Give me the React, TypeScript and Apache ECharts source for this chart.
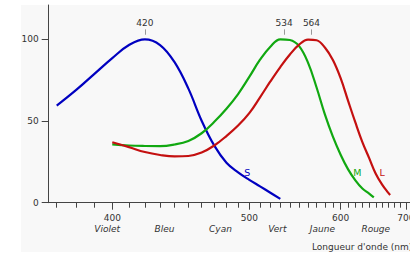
import { useEffect, useRef } from "react";
import * as echarts from "echarts";

// Cone sensitivities (normalised), wavelength in nm
const sWavelengths = [370, 380, 390, 400, 410, 420, 430, 440, 450, 460, 470, 480, 490, 500, 510, 520, 530];
const sValues = [59.4, 69, 79, 88.5, 96.5, 100, 96.5, 86, 69.8, 50.2, 34.9, 24.5, 18.6, 14, 10, 6.1, 2.3];

const mWavelengths = [400, 410, 420, 430, 440, 450, 460, 470, 480, 490, 500, 510, 520, 530, 540, 550, 560, 570, 580, 590, 600, 610, 620, 630, 640, 647];
const mValues = [35.7, 35.0, 34.7, 34.6, 35.6, 37.8, 42.5, 49.5, 57.5, 66.5, 77, 87.5, 95.5, 100, 99.6, 95.8, 85.7, 70.5, 54, 40.4, 29.4, 20.4, 13.7, 8.7, 5.6, 3.3];

const lWavelengths = [400, 410, 420, 430, 440, 450, 460, 470, 480, 490, 500, 510, 520, 530, 540, 550, 560, 570, 580, 590, 600, 610, 620, 630, 640, 650, 660, 670, 673];
const lValues = [37, 34, 31, 29.2, 28.3, 28.6, 30.7, 35, 40.8, 47.2, 54.8, 64.5, 74.2, 83, 90.7, 96.7, 99.8, 99.4, 95, 87.3, 76.2, 62.3, 49.1, 37.1, 27.3, 17.7, 11, 6, 4.7];

const seriesNames = ["S", "M", "L"];
const peakWavelengths = [420, 534, 564];
const peakValues = [100, 100, 100];
const labelWavelengths = [500, 620, 660];

const xTickWavelengths = [370, 380, 390, 400, 410, 420, 430, 440, 450, 460, 470, 480, 490, 500, 510, 520, 530, 540, 550, 560, 570, 580, 590, 600, 610, 620, 630, 640, 650, 660, 670, 680, 690, 700, 710];
const xLabelWavelengths = [400, 500, 600, 700];
const yTicks = [0, 50, 100];
const colorNames = ["Violet", "Bleu", "Cyan", "Vert", "Jaune", "Rouge"];
const colorCenters = [397, 433, 475, 527, 577, 650];

const toK = (l: number) => 1000 / l;

export default function App() {
  const ref = useRef<HTMLDivElement>(null);
  useEffect(() => {
    const chart = echarts.init(ref.current!, null, { renderer: "svg" });
    const font = "DejaVu Sans";
    const txt = "#333";
    const axisCol = "#444";
    const baseX = {
      type: "value",
      min: 1.4,
      max: 2.732,
      inverse: true,
      position: "bottom",
      splitLine: { show: false },
    };
    const colors = ["#0000c0", "#11a811", "#c41010"];
    const wls = [sWavelengths, mWavelengths, lWavelengths];
    const vals = [sValues, mValues, lValues];
    const labelOffsets = [[-2, -7], [2, -8], [0, -12]];

    const series = seriesNames.map((name, i) => {
      const data = wls[i].map((l, j) => [toK(l), vals[i][j]]);
      const li = wls[i].indexOf(labelWavelengths[i]);
      return {
        type: "line",
        name,
        data,
        xAxisIndex: 0,
        showSymbol: false,
        smooth: 0.4,
        lineStyle: { color: colors[i], width: 2.2 },
        itemStyle: { color: colors[i] },
        markLine: {
          silent: true,
          symbol: "none",
          lineStyle: { color: "#999", width: 1, type: "solid" },
          label: {
            show: true,
            position: "end",
            formatter: String(peakWavelengths[i]),
            color: txt,
            fontSize: 9,
            fontFamily: font,
            distance: 2,
          },
          data: [[
            { coord: [toK(peakWavelengths[i]), peakValues[i] + 2.8] },
            { coord: [toK(peakWavelengths[i]), peakValues[i] + 6.1] },
          ]],
        },
        markPoint: {
          silent: true,
          symbol: "circle",
          symbolSize: 1,
          itemStyle: { color: "rgba(0,0,0,0)" },
          label: {
            show: true,
            position: "inside",
            formatter: name,
            color: colors[i],
            fontSize: 9.5,
            fontFamily: font,
            offset: labelOffsets[i],
          },
          data: [{ coord: [toK(labelWavelengths[i]), vals[i][li]] }],
        },
      };
    });

    chart.setOption({
      animation: false,
      textStyle: { fontFamily: font },
      title: {
        text: "Longueur d'onde (nm)",
        left: 312,
        top: 242,
        padding: 0,
        textStyle: { fontSize: 9, fontWeight: "normal", color: txt, fontFamily: font },
      },
      grid: { left: 48.7, right: 6.3, top: 5, bottom: 54.3, containLabel: false },
      xAxis: [
        {
          ...baseX,
          axisLine: { show: true, lineStyle: { color: axisCol, width: 1 } },
          axisTick: { show: true, customValues: xTickWavelengths.map(toK), length: 5, lineStyle: { color: axisCol } },
          axisLabel: { show: false },
        },
        {
          ...baseX,
          axisLine: { show: false },
          axisTick: { show: true, customValues: xLabelWavelengths.map(toK), length: 7, lineStyle: { color: axisCol } },
          axisLabel: {
            show: true,
            customValues: xLabelWavelengths.map(toK),
            formatter: (v: number) => String(Math.round(1000 / v)),
            margin: 11,
            fontSize: 9,
            color: txt,
            fontFamily: font,
          },
        },
        {
          ...baseX,
          axisLine: { show: false },
          axisTick: { show: false },
          axisLabel: {
            show: true,
            customValues: colorCenters.map(toK),
            formatter: (v: number) => {
              const l = 1000 / v;
              let best = 0;
              colorCenters.forEach((c, i) => {
                if (Math.abs(c - l) < Math.abs(colorCenters[best] - l)) best = i;
              });
              return colorNames[best];
            },
            margin: 22,
            fontSize: 9,
            fontStyle: "italic",
            color: txt,
            fontFamily: font,
          },
        },
      ],
      yAxis: {
        type: "value",
        min: 0,
        max: 121,
        splitLine: { show: false },
        axisLine: { show: true, lineStyle: { color: axisCol, width: 1 } },
        axisTick: { show: true, customValues: yTicks, length: 7, lineStyle: { color: axisCol } },
        axisLabel: { customValues: yTicks, margin: 10, fontSize: 9, color: txt, fontFamily: font },
      },
      series,
    });
    return () => chart.dispose();
  }, []);

  return (
    <div style={{ position: "absolute", left: 0, top: 0, width: 410, height: 257, background: "#fff", overflow: "hidden" }}>
      <div style={{ position: "absolute", left: 21, top: 5, width: 389, height: 247, background: "#f8f8f8" }} />
      <div ref={ref} style={{ position: "absolute", left: 0, top: 0, width: 420, height: 257 }} />
    </div>
  );
}
